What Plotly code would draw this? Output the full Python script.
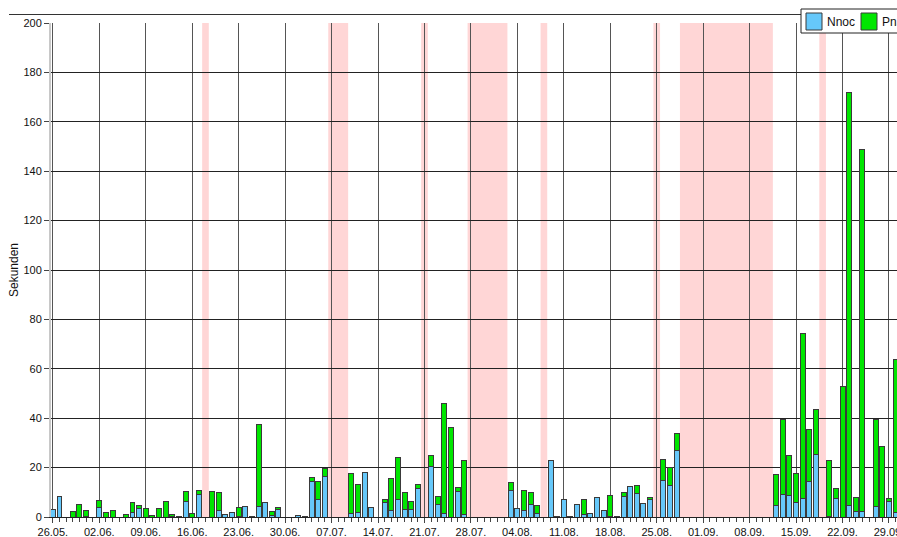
import pandas as pd
import plotly.graph_objects as go

# daily values, starting 26.05.2014 (Monday)
start_day = "2014-05-26"
nnoc = [3.0, 8.2, 0, 0, 0, 0.3, 0, 3.8, 0, 0, 0, 0, 1.8, 3.4, 0, 0, 0, 0, 0.3, 0.4,
        6.2, 0, 9.2, 0, 0, 2.6, 1.2, 1.8, 0.3, 4.2, 0.3, 4.4, 5.8, 0.6, 2.9, 0, 0, 0.8, 0.3, 14.2,
        7.0, 16.4, 0, 0, 0, 1.5, 2.0, 18.1, 3.7, 0, 5.8, 2.6, 7.0, 2.9, 2.9, 11.6, 0, 20.5, 5.1, 1.5,
        0, 10.2, 1.0, 0, 0, 0, 0, 0, 0, 10.7, 3.3, 2.6, 5.1, 1.4, 0, 23.0, 0.3, 7.0, 0.3, 5.1,
        1.0, 1.4, 7.8, 2.6, 0.3, 0.3, 8.4, 12.2, 9.5, 5.5, 7.0, 0, 14.7, 12.6, 26.8, 0, 0, 0, 0, 0,
        0, 0, 0, 0, 0, 0, 0, 0, 0, 4.8, 9.3, 8.6, 5.7, 7.6, 14.2, 25.5, 0, 0.3, 7.3, 0,
        4.7, 2.4, 2.4, 0, 4.3, 0, 6.1, 2.0]
pna = [0, 0, 0, 2.2, 5.2, 2.3, 0, 2.8, 1.9, 2.6, 0, 1.1, 4.1, 1.1, 3.3, 0.8, 3.3, 6.2, 0.9, 0,
       4.1, 1.6, 1.5, 0, 10.4, 7.4, 0, 0, 3.5, 0, 0, 33.2, 0, 1.8, 0.8, 0, 0, 0, 0, 1.7,
       7.4, 3.3, 0, 0, 0, 16.3, 11.3, 0, 0, 0, 1.2, 13.0, 17.0, 7.1, 3.4, 1.4, 0, 4.4, 3.1, 44.3,
       36.4, 1.7, 22.0, 0, 0, 0, 0, 0, 0, 3.1, 0, 8.1, 5.0, 3.4, 0, 0, 0, 0, 0, 0,
       6.0, 0, 0, 0, 8.5, 0, 1.6, 0, 3.1, 0, 0.8, 0, 8.6, 7.3, 7.2, 0, 0, 0, 0, 0,
       0, 0, 0, 0, 0, 0, 0, 0, 0, 12.5, 30.2, 16.5, 12.1, 66.6, 21.1, 17.9, 0, 22.7, 4.4, 52.8,
       167.0, 5.6, 146.2, 0, 35.2, 28.5, 1.2, 61.6]

# shaded periods (first and last day, inclusive)
band_start = ["2014-06-18", "2014-07-07", "2014-07-21", "2014-07-28", "2014-08-08",
              "2014-08-25", "2014-08-29", "2014-09-19"]
band_end = ["2014-06-18", "2014-07-09", "2014-07-21", "2014-08-02", "2014-08-08",
            "2014-08-25", "2014-09-11", "2014-09-19"]

dates = pd.date_range(start_day, periods=len(nnoc), freq="D")
half = pd.Timedelta(hours=12)
day_ms = 86400000

W, H = 897, 537
ML, MR, MT, MB = 51, 0, 23, 20
pw, ph = W - ML - MR, H - MT - MB


def px(x):
    # pixel x -> paper x
    return (x - ML) / pw


def py(y):
    # pixel y -> paper y
    return (H - MB - y) / ph


fig = go.Figure()
fig.add_trace(go.Bar(x=dates, y=nnoc, name="Nnoc", width=0.75 * day_ms,
                     marker=dict(color="#66c8fa", line=dict(color="#3a3a3a", width=1))))
fig.add_trace(go.Bar(x=dates, y=pna, name="Pna", width=0.75 * day_ms,
                     marker=dict(color="#00e600", line=dict(color="#3a3a3a", width=1))))

shapes = []
for s, e in zip(band_start, band_end):
    shapes.append(dict(type="rect", xref="x", yref="paper",
                       x0=pd.Timestamp(s) - half, x1=pd.Timestamp(e) + half, y0=0, y1=1,
                       fillcolor="#ffd6d6", line=dict(width=0), layer="below"))

# frame line above the plot
shapes.append(dict(type="line", xref="paper", yref="paper", x0=px(9), x1=px(920),
                   y0=py(14.5), y1=py(14.5), line=dict(color="#333", width=1)))

# legend (cut off on the right like the original)
shapes.append(dict(type="rect", xref="paper", yref="paper", x0=px(801), x1=px(930),
                   y0=py(33), y1=py(9), fillcolor="white", line=dict(color="#222", width=1)))
shapes.append(dict(type="rect", xref="paper", yref="paper", x0=px(806), x1=px(822),
                   y0=py(30), y1=py(13), fillcolor="#66c8fa", line=dict(color="#3a3a3a", width=1)))
shapes.append(dict(type="rect", xref="paper", yref="paper", x0=px(861), x1=px(877),
                   y0=py(30), y1=py(13), fillcolor="#00e600", line=dict(color="#3a3a3a", width=1)))

annotations = [
    dict(text="Nnoc", xref="paper", yref="paper", x=px(825), y=py(21.5), xanchor="left",
         yanchor="middle", showarrow=False, font=dict(size=12, color="#111")),
    dict(text="Pna", xref="paper", yref="paper", x=px(880), y=py(21.5), xanchor="left",
         yanchor="middle", showarrow=False, font=dict(size=12, color="#111")),
    # y axis title
    dict(text="Sekunden", xref="paper", yref="paper", x=px(14), y=py(270), textangle=-90,
         xanchor="center", yanchor="middle", showarrow=False, font=dict(size=12, color="#111")),
]

x0 = pd.Timestamp(start_day) - pd.Timedelta(hours=6.7)
x1 = x0 + pd.Timedelta(days=pw / 6.636)

fig.update_layout(
    width=W, height=H,
    margin=dict(l=ML, r=MR, t=MT, b=MB, autoexpand=False),
    barmode="stack",
    showlegend=False,
    plot_bgcolor="white",
    paper_bgcolor="white",
    font=dict(family="Liberation Sans, Arial, sans-serif", size=11, color="#111"),
    shapes=shapes,
    annotations=annotations,
    xaxis=dict(
        type="date", range=[x0, x1], automargin=False,
        tick0=start_day, dtick=7 * day_ms, tickformat="%d.%m.",
        ticks="outside", ticklen=5, tickcolor="#444",
        ticklabeloverflow="allow",
        showgrid=True, gridcolor="#555", gridwidth=1,
        showline=True, linecolor="#222", linewidth=1,
        minor=dict(dtick=day_ms, ticks="outside", ticklen=4, tickcolor="#444", showgrid=False),
        tickfont=dict(size=11),
    ),
    yaxis=dict(
        range=[0, 200], dtick=20, tick0=0, automargin=False,
        ticks="outside", ticklen=5, tickcolor="#444",
        showgrid=True, gridcolor="#222", gridwidth=1,
        zeroline=False,
        showline=True, linecolor="#c8c8c8", linewidth=2,
        tickfont=dict(size=11),
    ),
)

# no page margin / scrollbars so the figure fills the window
fig.write_html("out.html", config={"displayModeBar": False}, post_script=(
    "document.body.style.margin='0';"
    "document.body.style.overflow='hidden';"
    "document.documentElement.style.overflow='hidden';"
))
